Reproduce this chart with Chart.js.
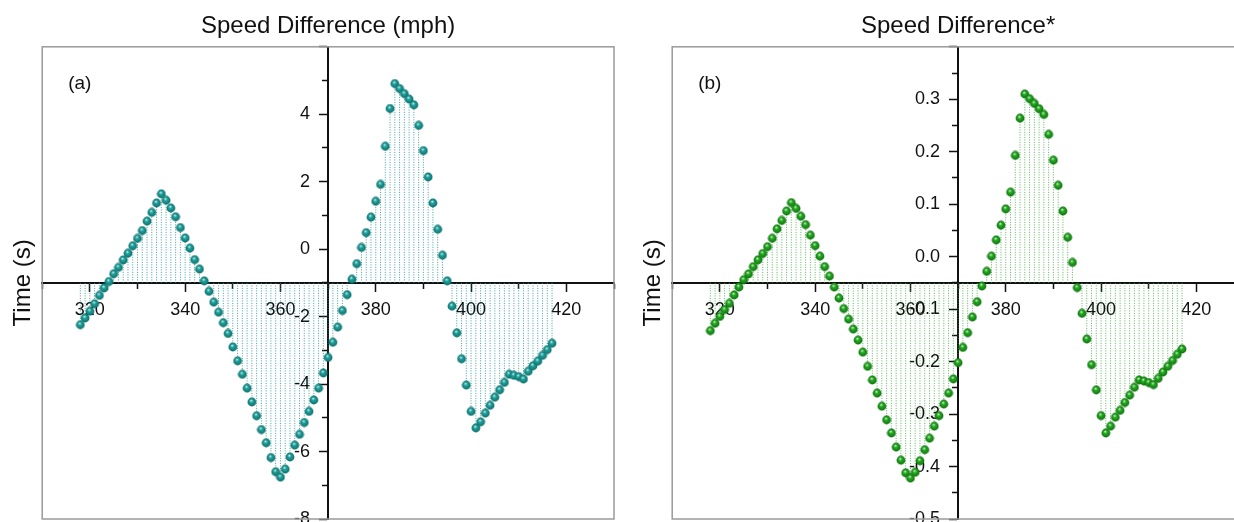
<!DOCTYPE html>
<html>
<head>
<meta charset="utf-8">
<title>Speed Difference</title>
<script src="https://cdn.jsdelivr.net/npm/chart.js@4.4.1/dist/chart.umd.min.js"></script>
<style>
  html, body { margin: 0; padding: 0; background: #fff; }
  body { width: 1234px; height: 522px; overflow: hidden; position: relative; }
  .panel { position: absolute; top: 0; width: 630px; height: 522px; }
  #panelA { left: 0; }
  #panelB { left: 630px; }
</style>
</head>
<body>
<div class="panel" id="panelA"><canvas id="chartA" width="630" height="522"></canvas></div>
<div class="panel" id="panelB"><canvas id="chartB" width="630" height="522"></canvas></div>
<script>
// x positions (speed) shared by both panels
const speeds = [
  318, 319, 320, 321, 322, 323, 324, 325, 326, 327,
  328, 329, 330, 331, 332, 333, 334, 335, 336, 337,
  338, 339, 340, 341, 342, 343, 344, 345, 346, 347,
  348, 349, 350, 351, 352, 353, 354, 355, 356, 357,
  358, 359, 360, 361, 362, 363, 364, 365, 366, 367,
  368, 369, 370, 371, 372, 373, 374, 375, 376, 377,
  378, 379, 380, 381, 382, 383, 384, 385, 386, 387,
  388, 389, 390, 391, 392, 393, 394, 395, 396, 397,
  398, 399, 400, 401, 402, 403, 404, 405, 406, 407,
  408, 409, 410, 411, 412, 413, 414, 415, 416, 417
];

// (a) Speed Difference (mph)
const timeDiffA = [
  -2.24, -2.04, -1.84, -1.62, -1.37, -1.15, -0.96, -0.73, -0.54, -0.32,
  -0.12, 0.10, 0.32, 0.55, 0.83, 1.09, 1.37, 1.64, 1.45, 1.22,
  0.96, 0.64, 0.33, 0.03, -0.31, -0.59, -0.94, -1.25, -1.57, -1.87,
  -2.18, -2.50, -2.90, -3.31, -3.71, -4.12, -4.53, -4.94, -5.35, -5.74,
  -6.18, -6.60, -6.76, -6.52, -6.16, -5.81, -5.49, -5.14, -4.81, -4.47,
  -4.12, -3.67, -3.21, -2.76, -2.31, -1.82, -1.35, -0.89, -0.43, 0.05,
  0.49, 0.95, 1.42, 1.92, 3.05, 4.17, 4.91, 4.76, 4.61, 4.45,
  4.28, 3.67, 2.92, 2.14, 1.37, 0.59, -0.18, -0.94, -1.69, -2.48,
  -3.25, -4.03, -4.81, -5.30, -5.12, -4.86, -4.63, -4.39, -4.17, -3.95,
  -3.71, -3.74, -3.78, -3.85, -3.62, -3.46, -3.32, -3.15, -2.98, -2.79
];

// (b) Speed Difference*
const timeDiffB = [
  -0.141, -0.127, -0.114, -0.101, -0.089, -0.073, -0.058, -0.044, -0.033, -0.019,
  -0.006, 0.006, 0.019, 0.035, 0.053, 0.069, 0.087, 0.103, 0.092, 0.077,
  0.061, 0.041, 0.021, 0.001, -0.019, -0.037, -0.058, -0.079, -0.099, -0.119,
  -0.138, -0.159, -0.182, -0.209, -0.235, -0.260, -0.285, -0.311, -0.336, -0.363,
  -0.388, -0.412, -0.422, -0.411, -0.389, -0.368, -0.346, -0.323, -0.303, -0.281,
  -0.260, -0.233, -0.202, -0.173, -0.145, -0.115, -0.086, -0.056, -0.028, 0.001,
  0.032, 0.060, 0.091, 0.123, 0.193, 0.264, 0.310, 0.301, 0.292, 0.282,
  0.271, 0.233, 0.184, 0.136, 0.087, 0.037, -0.011, -0.059, -0.108, -0.157,
  -0.206, -0.254, -0.303, -0.336, -0.323, -0.306, -0.293, -0.278, -0.264, -0.249,
  -0.235, -0.237, -0.240, -0.244, -0.232, -0.220, -0.209, -0.198, -0.186, -0.176
];

// tick labels
const xTickLabels = ['320', '340', '360', '380', '400', '420'];
const yTickLabelsA = ['-8', '-6', '-4', '-2', '0', '2', '4'];
const yTickLabelsB = ['-0.5', '-0.4', '-0.3', '-0.2', '-0.1', '0.0', '0.1', '0.2', '0.3'];

const FONT = 'Arial, "Liberation Sans", sans-serif';
Chart.defaults.font.family = FONT;
Chart.defaults.color = '#111';

function isMultiple(v, step) {
  return Math.abs(v / step - Math.round(v / step)) < 1e-6;
}

// small shaded ball used as the marker
function sphere(light, mid, dark, edge) {
  const c = document.createElement('canvas');
  c.width = 10; c.height = 10;
  const g = c.getContext('2d');
  const grad = g.createRadialGradient(4.2, 3.4, 0.2, 5, 5, 4.6);
  grad.addColorStop(0, light);
  grad.addColorStop(0.35, mid);
  grad.addColorStop(0.8, dark);
  grad.addColorStop(1, edge);
  g.fillStyle = grad;
  g.beginPath();
  g.arc(5, 5, 4.4, 0, Math.PI * 2);
  g.fill();
  return c;
}

// dotted drop lines: point -> axis, broken by nulls
function dropLines(xs, ys, base) {
  const out = [];
  xs.forEach((x, i) => {
    out.push({ x: x, y: base }, { x: x, y: ys[i] }, { x: x, y: null });
  });
  return out;
}

// scales placed in the middle should not eat layout space
function noSpace(s) {
  if (s.isHorizontal()) s.height = 0; else s.width = 0;
  s.paddingTop = s.paddingBottom = s.paddingLeft = s.paddingRight = 0;
}

// grey box around the plot + panel tag
const framePlugin = {
  id: 'frame',
  beforeDatasetsDraw(chart) {
    const { ctx, chartArea: a } = chart;
    ctx.save();
    ctx.strokeStyle = '#9a9a9a';
    ctx.lineWidth = 1.5;
    ctx.strokeRect(a.left, a.top, a.right - a.left, a.bottom - a.top);
    ctx.restore();
  },
  afterDraw(chart, args, opts) {
    const { ctx, chartArea: a } = chart;
    ctx.save();
    ctx.font = '19px ' + FONT;
    ctx.fillStyle = '#111';
    ctx.textBaseline = 'middle';
    ctx.fillText(opts.tag, a.left + 26, 84);
    ctx.restore();
  }
};

function makeChart(id, cfg) {
  const base = (cfg.yMin + cfg.yMax) / 2;
  const points = speeds.map((x, i) => ({ x: x, y: cfg.values[i] }));

  return new Chart(document.getElementById(id), {
    type: 'scatter',
    data: {
      datasets: [{
        data: points,
        pointStyle: cfg.marker,
        pointRadius: 4.4,
        pointHoverRadius: 4.4,
        pointBorderWidth: 0,
        showLine: false
      }, {
        data: dropLines(speeds, cfg.values, base),
        showLine: true,
        spanGaps: false,
        pointRadius: 0,
        pointHoverRadius: 0,
        borderColor: cfg.dropColor,
        borderWidth: 1,
        borderDash: [1, 1.5]
      }]
    },
    options: {
      responsive: false,
      animation: false,
      events: [],
      layout: { autoPadding: false, padding: { left: 5.2, right: 16, top: 0, bottom: 3 } },
      plugins: {
        legend: { display: false },
        tooltip: { enabled: false },
        title: {
          display: true,
          text: cfg.title,
          fullSize: false,
          color: '#111',
          font: { size: 24, weight: 'normal' },
          padding: { top: 12, bottom: 6 }
        },
        frame: { tag: cfg.tag }
      },
      scales: {
        x: {
          type: 'linear',
          position: 'center',
          min: 310,
          max: 430,
          afterFit: noSpace,
          border: { display: true, color: '#111', width: 2 },
          grid: {
            drawOnChartArea: false,
            drawTicks: true,
            tickLength: 8,
            tickWidth: 1.5,
            tickColor: '#111',
            tickBorderDash: c => isMultiple(c.tick.value, 20) ? [] : [5, 20]
          },
          ticks: {
            stepSize: 10,
            autoSkip: false,
            maxRotation: 0,
            padding: 8,
            color: '#111',
            font: { size: 18 },
            callback: v => xTickLabels.includes(String(v)) ? String(v) : ''
          }
        },
        y: {
          type: 'linear',
          position: 'center',
          min: cfg.yMin,
          max: cfg.yMax,
          afterFit: noSpace,
          border: { display: true, color: '#111', width: 2 },
          grid: {
            drawOnChartArea: false,
            drawTicks: true,
            tickLength: 8,
            tickWidth: 1.5,
            tickColor: '#111',
            tickBorderDash: c => isMultiple(c.tick.value, cfg.major) ? [] : [5, 20]
          },
          ticks: {
            stepSize: cfg.minor,
            autoSkip: false,
            padding: 10,
            color: '#111',
            font: { size: 18 },
            callback: v => {
              if (!isMultiple(v, cfg.major)) return '';
              const s = (Math.round(v / cfg.major) * cfg.major).toFixed(cfg.decimals);
              return cfg.yLabels.includes(s) ? s : '';
            }
          }
        },
        yTitle: {
          type: 'linear',
          position: 'left',
          afterFit: s => { s.width = 37; },
          grid: { display: false },
          border: { display: false },
          ticks: { display: false },
          title: {
            display: true,
            text: 'Time (s)',
            color: '#111',
            font: { size: 24 },
            padding: { top: 4, bottom: 4 }
          }
        }
      }
    },
    plugins: [framePlugin]
  });
}

makeChart('chartA', {
  title: 'Speed Difference (mph)',
  tag: '(a)',
  values: timeDiffA,
  yMin: -8, yMax: 6, minor: 1, major: 2, decimals: 0,
  yLabels: yTickLabelsA,
  marker: sphere('#c4ecea', '#239e9a', '#0f7f7b', '#09605d'),
  dropColor: 'rgba(30,145,145,0.85)'
});

makeChart('chartB', {
  title: 'Speed Difference*',
  tag: '(b)',
  values: timeDiffB,
  yMin: -0.5, yMax: 0.4, minor: 0.05, major: 0.1, decimals: 1,
  yLabels: yTickLabelsB,
  marker: sphere('#cdf2c4', '#26a626', '#11860f', '#0b600b'),
  dropColor: 'rgba(50,165,50,0.8)'
});
</script>
</body>
</html>
